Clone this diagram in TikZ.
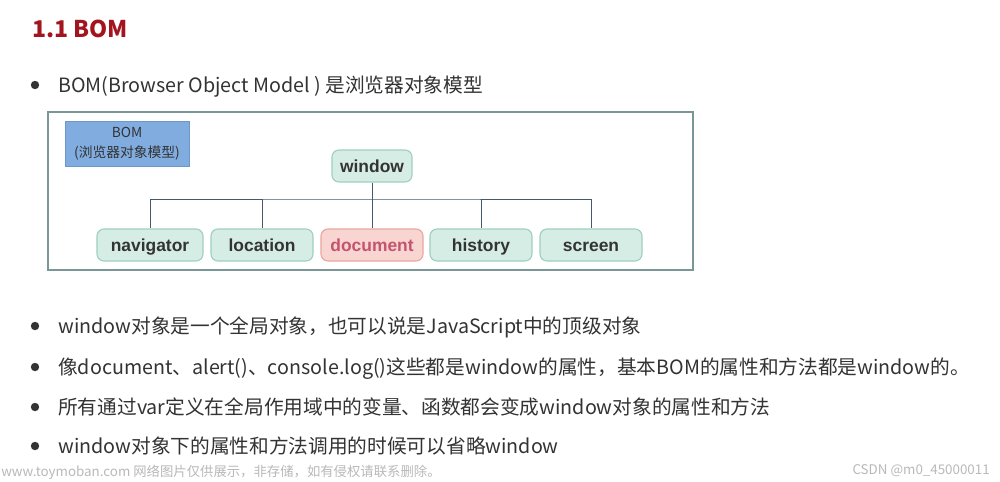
\documentclass[tikz,border=0pt]{standalone}
\usepackage{fontspec}
\setmainfont{Noto Sans CJK SC}
\newfontfamily\boxfont{Liberation Sans}
\usetikzlibrary{positioning}
\definecolor{titlered}{RGB}{163,21,30}
\definecolor{textgray}{RGB}{51,51,51}
\definecolor{leaffill}{RGB}{214,237,229}
\definecolor{leafline}{RGB}{160,208,190}
\definecolor{docfill}{RGB}{248,213,208}
\definecolor{docline}{RGB}{232,168,160}
\definecolor{doctext}{RGB}{196,84,110}
\definecolor{bomfill}{RGB}{128,172,224}
\definecolor{bomline}{RGB}{108,150,204}
\definecolor{frameline}{RGB}{122,150,150}
\definecolor{treeline}{RGB}{70,88,108}
\definecolor{markgray}{RGB}{185,185,185}

\tikzset{
	linetext/.style={anchor=base west, inner sep=0pt, text=textgray,
		font=\fontsize{14pt}{17pt}\selectfont},
	leaf/.style={draw=leafline, fill=leaffill, line width=0.8pt, rounded corners=5pt,
		minimum width=2.55cm, minimum height=0.8cm, inner sep=0pt, text=textgray,
		text height=9pt, text depth=0pt,
		font=\boxfont\bfseries\fontsize{12.4pt}{14pt}\selectfont},
	tree/.style={draw=treeline, line width=0.7pt},
	watermark/.style={anchor=base west, inner sep=0pt, text=markgray,
		font=\fontsize{9.5pt}{12pt}\selectfont}
}

\newcommand{\bulletline}[3] % name, baseline y in px, text
{
	% dot
	\fill[textgray] (35,#2-7) circle (0.105cm);
	% text
	\node[linetext] (#1) at (58,#2) {#3};
}

\begin{document}
\begin{tikzpicture}[x=0.025cm, y=-0.025cm]
	% page: 1000px x 481px
	\useasboundingbox[fill=white] (0,0) rectangle (1000,481);

	\node[anchor=base west, inner sep=0pt, text=titlered,
		font=\bfseries\fontsize{16.4pt}{20pt}\selectfont] (title) at (32,37) {1.1 BOM};

	\bulletline{intro}{92}{BOM(Browser Object Model ) 是浏览器对象模型}

	% frame round the tree
	\draw[frameline, line width=0.9pt] (48,112) rectangle (693,270);
	\node[draw=bomline, fill=bomfill, minimum width=3.1cm, minimum height=1.125cm,
		inner sep=0pt, align=center, text=textgray,
		font=\fontsize{9.8pt}{14pt}\selectfont] (bom) at (127,143.5) {BOM\\(浏览器对象模型)};

	% tree
	\node[leaf, minimum width=2cm] (window) at (372,166) {window};
	\node[leaf, minimum width=2.65cm] (navigator) at (150,245) {navigator};
	\node[leaf] (location) at (262,245) {location};
	\node[leaf, draw=docline, fill=docfill, text=doctext] (document) at (372,245) {document};
	\node[leaf] (history) at (481,245) {history};
	\node[leaf] (screen) at (591,245) {screen};
	\coordinate (bus) at (372,199);
	\draw[tree] (window.south) -- (document.north);
	\draw[tree] (navigator.north) |- (bus) -| (screen.north);
	\draw[tree] (location.north) -- (location.north |- bus);
	\draw[tree] (history.north) -- (history.north |- bus);

	\bulletline{global}{333}{window对象是一个全局对象，也可以说是JavaScript中的顶级对象}
	\bulletline{props}{374}{像document、alert()、console.log()这些都是window的属性，基本BOM的属性和方法都是window的。}
	\bulletline{vars}{414}{所有通过var定义在全局作用域中的变量、函数都会变成window对象的属性和方法}
	\bulletline{omit}{453}{window对象下的属性和方法调用的时候可以省略window}

	% marks at the foot
	\node[watermark] (site) at (1,476) {www.toymoban.com 网络图片仅供展示，非存储，如有侵权请联系删除。};
	\node[watermark, anchor=base east] (csdn) at (990,474) {CSDN @m0\_45000011};
\end{tikzpicture}
\end{document}
